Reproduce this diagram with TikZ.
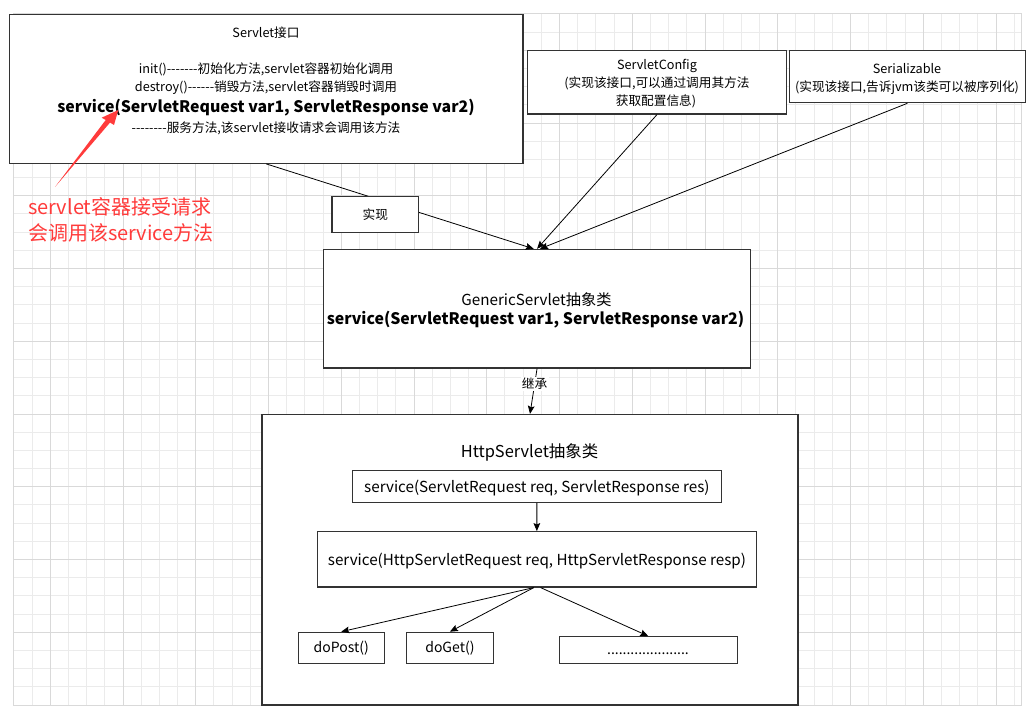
\documentclass[tikz,border=0pt]{standalone}
\usepackage{fontspec}
\setmainfont{Noto Sans CJK SC}[Ligatures=TeXOff]
\usetikzlibrary{arrows.meta,fit}
\definecolor{gridminor}{HTML}{EBEBEB}
\definecolor{gridmajor}{HTML}{D9D9D9}
\definecolor{boxline}{HTML}{333333}
\definecolor{redmark}{HTML}{FF3B3B}
\begin{document}
\begin{tikzpicture}[x=0.75pt,y=-0.75pt,
  box/.style={draw=boxline,line width=0.9pt,fill=white,inner sep=0pt},
  txt/.style={inner sep=0pt,font=\fontsize{9.5}{11}\selectfont},
  mid/.style={inner sep=0pt,font=\fontsize{11.4}{13}\selectfont},
  small/.style={inner sep=0pt,font=\fontsize{10.5}{12}\selectfont},
  head/.style={inner sep=0pt,font=\fontsize{12.3}{14}\selectfont},
  bigb/.style={inner sep=0pt,font=\fontsize{11.9}{14}\selectfont\bfseries},
  redtxt/.style={inner sep=0pt,anchor=west,text=redmark,font=\fontsize{15}{17}\selectfont},
  conn/.style={draw=black,line width=0.6pt,-{Stealth[length=6pt,width=5pt,inset=1pt]}},
  lbl/.style={inner sep=1pt,fill=white,font=\fontsize{9.5}{11}\selectfont},
]
\useasboundingbox (0,0) rectangle (1031,712);
% grid
\foreach \i in {0,...,55}{\draw[gridminor,line width=0.75pt] ({13.9+\i*18.1875},13.9) -- ({13.9+\i*18.1875},705);}
\foreach \j in {0,...,38}{\draw[gridminor,line width=0.75pt] (13.9,{13.9+\j*18.1875}) -- (1021,{13.9+\j*18.1875});}
\foreach \i in {0,...,13}{\draw[gridmajor,line width=0.75pt] ({50.3+\i*72.75},13.9) -- ({50.3+\i*72.75},705);}
\foreach \j in {0,...,8}{\draw[gridmajor,line width=0.75pt] (13.9,{50.3+\j*72.75}) -- (1021,{50.3+\j*72.75});}
\draw[gridmajor,line width=0.75pt] (13.9,13.9) rectangle (1021,705);

% boxes
\node[box,fit={(9.5,14.3)(523,163.3)}] (servlet) {};
\node[box,fit={(527.3,50.7)(786.7,114)}] (sconfig) {};
\node[box,fit={(789.3,50.5)(1025.5,102.7)}] (serial) {};
\node[box,fit={(323.7,249.4)(750.4,368)}] (generic) {};
\node[box,fit={(262,414.5)(798,705)}] (http) {};
\node[box,fit={(352.3,470.3)(721.4,502.3)}] (s1) {};
\node[box,fit={(317.5,531.7)(756.2,587)}] (s2) {};
\node[box,fit={(298.2,632.3)(384.3,663.3)}] (dopost) {};
\node[box,fit={(406.3,632.3)(493.5,663.3)}] (doget) {};
\node[box,fit={(559.2,636.7)(737.3,663.3)}] (dots) {};

% texts
\node[txt] (t-servlet) at (266,32.3) {Servlet接口};
\node[txt] (t-init) at (266,69.3) {init()-------初始化方法,servlet容器初始化调用};
\node[txt] (t-destroy) at (266,87.3) {destroy()------销毁方法,servlet容器销毁时调用};
\node[bigb] (t-service) at (266,107.3) {service(ServletRequest var1, ServletResponse var2)};
\node[txt] (t-svc) at (266,128.3) {--------服务方法,该servlet接收请求会调用该方法};

\node[txt] (t-sc1) at (657,65.7) {ServletConfig};
\node[txt] (t-sc2) at (657,83.3) {(实现该接口,可以通过调用其方法};
\node[txt] (t-sc3) at (656,101.7) {获取配置信息)};

\node[txt] (t-ser1) at (907,68.3) {Serializable};
\node[txt] (t-ser2) at (907,87.3) {(实现该接口,告诉jvm该类可以被序列化)};

\node[mid] (t-gen) at (536.5,299.3) {GenericServlet抽象类};
\node[bigb] (t-gen2) at (535.5,320) {service(ServletRequest var1, ServletResponse var2)};

\node[head] (t-http) at (529.5,452.7) {HttpServlet抽象类};
\node[mid] (t-s1) at (536.9,487.7) {service(ServletRequest req, ServletResponse res)};
\node[mid] (t-s2) at (536.9,560.7) {service(HttpServletRequest req, HttpServletResponse resp)};
\node[small] (t-post) at (341.2,648.3) {doPost()};
\node[small] (t-get) at (449.9,648.3) {doGet()};
\node[small] (t-dots) at (648,654) {.....................};

% connectors
\draw[conn] (servlet.south) -- ([xshift=-2.5pt]generic.north);
\draw[conn] (sconfig.south) -- (generic.north);
\draw[conn] (serial.south) -- ([xshift=2.2pt]generic.north);
\node[box,fit={(332,196.3)(418.6,232.3)}] (impl) {};
\node[txt] (t-impl) at (impl.center) {实现};
\draw[conn] (generic.south) -- node[lbl,pos=0.34] (inh) {继承} (http.north);
\draw[conn] (s1.south) -- (s2.north);
\draw[conn] ([xshift=-2.3pt]s2.south) -- (dopost.north);
\draw[conn] ([xshift=-2.3pt]s2.south) -- (doget.north);
\draw[conn] ([xshift=2.8pt]s2.south) -- (dots.north);

% red annotation
\fill[redmark] (55,187) -- (105.7,120) -- (101.7,117.7) -- (118.3,110) -- (114,125) -- (110,122.6) -- cycle;
\node[redtxt] (r1) at (27.9,206.7) {servlet容器接受请求};
\node[redtxt] (r2) at (27.9,233.3) {会调用该service方法};
\end{tikzpicture}
\end{document}
